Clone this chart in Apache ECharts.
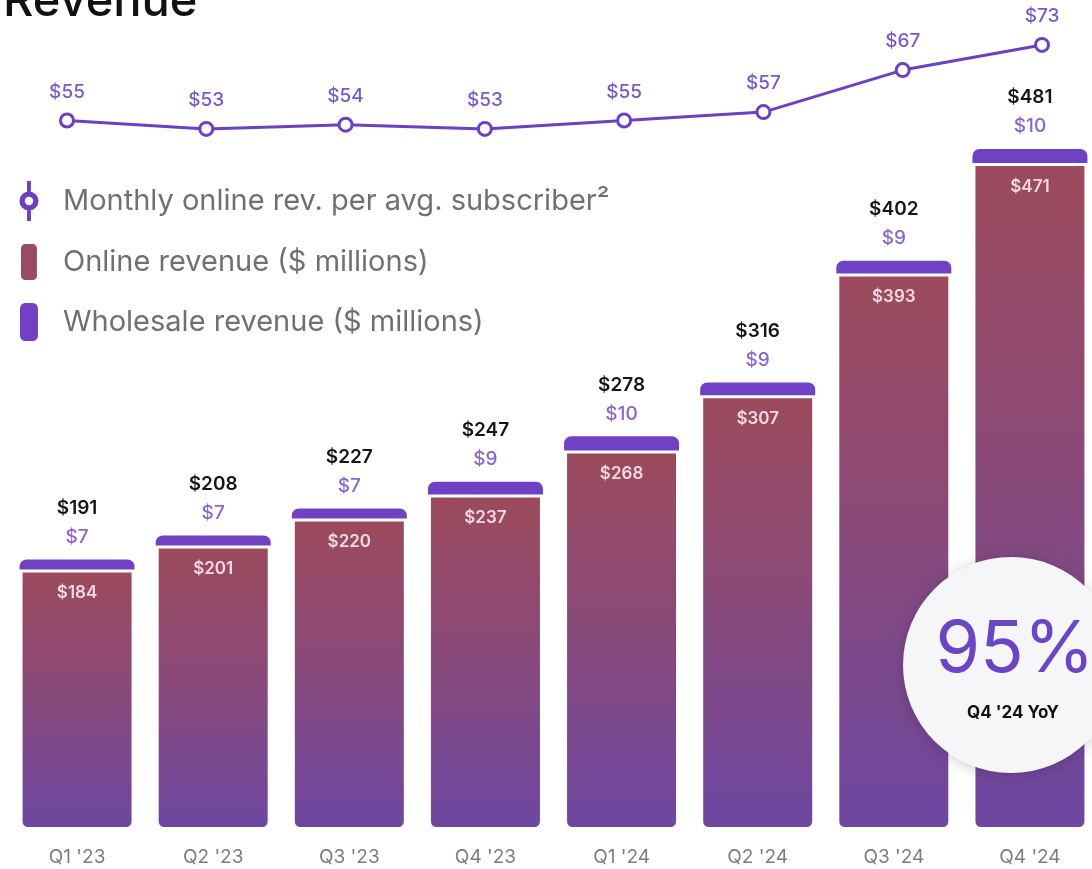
<!DOCTYPE html>
<html>
<head>
<meta charset="utf-8">
<title>Revenue</title>
<script src="https://cdn.jsdelivr.net/npm/echarts@6/dist/echarts.min.js"></script>
<style>
  html, body { margin: 0; padding: 0; background: #ffffff; }
  #chart { width: 1092px; height: 869px; }
</style>
</head>
<body>
<div id="chart"></div>
<script>
// Quarterly revenue figures
const quarters = ["Q1 '23", "Q2 '23", "Q3 '23", "Q4 '23", "Q1 '24", "Q2 '24", "Q3 '24", "Q4 '24"];
const onlineRevenue = [184, 201, 220, 237, 268, 307, 393, 471];      // $ millions
const wholesaleRevenue = [7, 7, 7, 9, 10, 9, 9, 10];                 // $ millions
const totalRevenue = [191, 208, 227, 247, 278, 316, 402, 481];       // $ millions, as reported
const revPerSubscriber = [55, 53, 54, 53, 55, 57, 67, 73];           // $ per month
const yoyGrowth = '95%';
const yoyCaption = "Q4 '24 YoY";

const FONT = 'Inter, "Noto Sans", sans-serif';
const LINE_COLOR = '#6b40c2';
const WHOLESALE_COLOR = '#7041c3';
const ONLINE_ICON_COLOR = '#9a4a66';

const NAME_LINE = 'Monthly online rev. per avg. subscriber\u00B2';
const NAME_ONLINE = 'Online revenue ($ millions)';
const NAME_WHOLESALE = 'Wholesale revenue ($ millions)';

// legend glyphs: stem with a ring, and rounded bars
const ICON_RING = 'path://M9 0H11V11.5H9Z M9 28.5H11V40H9Z M10 11A9 9 0 1 1 9.99 11Z M10 14.5A5.5 5.5 0 1 0 10.01 14.5Z';
const ICON_BAR = 'path://M5 0H12A5 5 0 0 1 17 5V31A5 5 0 0 1 12 36H5A5 5 0 0 1 0 31V5A5 5 0 0 1 5 0Z';

const chart = echarts.init(document.getElementById('chart'), null, { renderer: 'canvas' });

const option = {
  backgroundColor: '#ffffff',
  animation: false,
  textStyle: { fontFamily: FONT },
  title: {
    text: 'Revenue',
    left: -2,
    top: -27,
    textStyle: { fontFamily: FONT, fontSize: 47, fontWeight: 500, color: '#111111' }
  },
  legend: {
    orient: 'vertical',
    left: 19,
    top: 181,
    padding: 0,
    itemWidth: 58,
    itemHeight: 38,
    itemGap: 21,
    selectedMode: false,
    textStyle: { fontFamily: FONT, fontSize: 29, color: '#707070' },
    data: [
      { name: NAME_LINE, icon: ICON_RING, itemStyle: { color: LINE_COLOR } },
      { name: NAME_ONLINE, icon: ICON_BAR, itemStyle: { color: ONLINE_ICON_COLOR } },
      { name: NAME_WHOLESALE, icon: ICON_BAR, itemStyle: { color: WHOLESALE_COLOR } }
    ]
  },
  grid: [
    { left: 9, right: -6, top: 122, bottom: 39, outerBoundsMode: 'none' },
    { left: 67, right: 50, top: 15.5, bottom: 685.5, outerBoundsMode: 'none' }
  ],
  xAxis: [
    {
      type: 'category',
      gridIndex: 0,
      data: quarters,
      axisLine: { show: false },
      axisTick: { show: false },
      axisLabel: { margin: 18, fontFamily: FONT, fontSize: 19, color: '#7d7d7d' }
    },
    {
      type: 'category',
      gridIndex: 1,
      data: quarters,
      boundaryGap: false,
      show: false
    }
  ],
  yAxis: [
    { type: 'value', gridIndex: 0, min: 0, max: 500, show: false },
    { type: 'value', gridIndex: 1, min: 40, max: 80, show: false }
  ],
  series: [
    {
      name: NAME_ONLINE,
      type: 'bar',
      stack: 'revenue',
      barWidth: 115,
      data: onlineRevenue,
      itemStyle: {
        color: new echarts.graphic.LinearGradient(0, 0, 0, 1, [
          { offset: 0, color: '#9c4a5c' },
          { offset: 0.45, color: '#8a4a78' },
          { offset: 1, color: '#6d47a2' }
        ]),
        borderColor: '#ffffff',
        borderWidth: 3,
        borderRadius: [0, 0, 7, 7]
      },
      label: {
        show: true,
        position: 'insideTop',
        distance: 15,
        fontFamily: FONT,
        fontSize: 17,
        fontWeight: 600,
        color: '#f4dae4',
        formatter: p => '$' + p.value
      }
    },
    {
      name: NAME_WHOLESALE,
      type: 'bar',
      stack: 'revenue',
      barWidth: 115,
      data: wholesaleRevenue,
      itemStyle: { color: WHOLESALE_COLOR, borderRadius: [7, 7, 0, 0] },
      label: {
        show: true,
        position: 'top',
        distance: 8,
        formatter: p => '{t|$' + totalRevenue[p.dataIndex] + '}\n{w|$' + p.value + '}',
        rich: {
          t: { fontFamily: FONT, fontSize: 19, fontWeight: 600, color: '#151515', lineHeight: 29, align: 'center' },
          w: { fontFamily: FONT, fontSize: 19, fontWeight: 500, color: '#8a64d0', lineHeight: 29, align: 'center' }
        }
      }
    },
    {
      name: NAME_LINE,
      type: 'line',
      xAxisIndex: 1,
      yAxisIndex: 1,
      data: revPerSubscriber,
      symbol: 'circle',
      symbolSize: 13,
      lineStyle: { color: LINE_COLOR, width: 3 },
      itemStyle: { color: '#ffffff', borderColor: LINE_COLOR, borderWidth: 3 },
      label: {
        show: true,
        position: 'top',
        distance: 11,
        fontFamily: FONT,
        fontSize: 19,
        fontWeight: 500,
        color: '#7b58c9',
        formatter: p => '$' + p.value
      },
      z: 5
    }
  ],
  graphic: [
    {
      type: 'circle',
      z: 100,
      shape: { cx: 1011, cy: 665, r: 108 },
      style: {
        fill: '#f6f6f8',
        shadowBlur: 14,
        shadowColor: 'rgba(0,0,0,0.18)',
        shadowOffsetY: 2
      }
    },
    {
      type: 'text',
      z: 101,
      x: 1015,
      y: 650,
      style: {
        text: yoyGrowth,
        fontFamily: FONT,
        fontSize: 72,
        fontWeight: 400,
        fill: '#6a45c4',
        align: 'center',
        verticalAlign: 'middle'
      }
    },
    {
      type: 'text',
      z: 101,
      x: 1013,
      y: 713,
      style: {
        text: yoyCaption,
        fontFamily: FONT,
        fontSize: 17,
        fontWeight: 700,
        fill: '#111111',
        align: 'center',
        verticalAlign: 'middle'
      }
    }
  ]
};

chart.setOption(option);
</script>
</body>
</html>
